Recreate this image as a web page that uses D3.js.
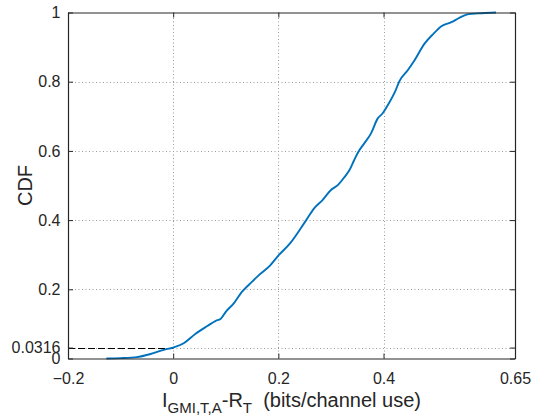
<!DOCTYPE html>
<html>
<head>
<meta charset="utf-8">
<script src="https://cdn.jsdelivr.net/npm/d3@7"></script>
<style>
	body { margin: 0; background: #fff; }
	svg text { font-family: 'Liberation Sans', Arial, Helvetica, sans-serif; fill: #262626; }
</style>
</head>
<body>
<div id="chart"></div>
<script>
var gapValues = [-0.127, -0.10, -0.069, -0.043, -0.018, 0, 0.020, 0.042, 0.065, 0.081, 0.090, 0.100, 0.116, 0.131, 0.150, 0.163, 0.185, 0.198, 0.223, 0.253, 0.268, 0.284, 0.300, 0.313, 0.326, 0.335, 0.344, 0.352, 0.363, 0.376, 0.389, 0.398, 0.408, 0.423, 0.430, 0.446, 0.459, 0.478, 0.494, 0.510, 0.529, 0.545, 0.558, 0.587, 0.614];
var cdfValues = [0, 0.001, 0.004, 0.013, 0.025, 0.0316, 0.044, 0.071, 0.094, 0.109, 0.114, 0.135, 0.161, 0.193, 0.222, 0.241, 0.270, 0.294, 0.334, 0.40, 0.434, 0.458, 0.487, 0.501, 0.525, 0.544, 0.573, 0.597, 0.621, 0.650, 0.694, 0.708, 0.732, 0.775, 0.801, 0.833, 0.862, 0.910, 0.937, 0.960, 0.972, 0.985, 0.994, 0.998, 1.0];

var xTicks = [-0.2, 0, 0.2, 0.4, 0.65];
var yTicks = [0, 0.0316, 0.2, 0.4, 0.6, 0.8, 1];
var marker = { x: 0, y: 0.0316 };

function drawCdf() {
	var width = 537,
	    height = 418,
	    margin = { left: 68, right: 22, top: 12.5, bottom: 59.5 };

	var svg = d3.select('#chart').append('svg')
		.attr('width', width)
		.attr('height', height);

	var x = d3.scaleLinear().domain([-0.2, 0.65]).range([margin.left, width - margin.right]);
	var y = d3.scaleLinear().domain([0, 1]).range([height - margin.bottom, margin.top]);

	var axisColor = '#262626';

	// grid
	var grid = svg.append('g').attr('class', 'grid')
		.attr('stroke', '#9a9a9a').attr('stroke-width', 1).attr('stroke-dasharray', '1,2.5');
	grid.selectAll('.vg').data(xTicks.slice(1, -1)).enter().append('line')
		.attr('x1', d => Math.round(x(d)) + 0.5).attr('x2', d => Math.round(x(d)) + 0.5)
		.attr('y1', y(0)).attr('y2', y(1));
	grid.selectAll('.hg').data(yTicks.slice(1, -1)).enter().append('line')
		.attr('y1', d => Math.round(y(d)) + 0.5).attr('y2', d => Math.round(y(d)) + 0.5)
		.attr('x1', x(-0.2)).attr('x2', x(0.65));

	// dashed marker at the 0 crossing
	svg.append('line')
		.attr('x1', x(-0.2)).attr('x2', x(marker.x))
		.attr('y1', Math.round(y(marker.y)) + 0.5).attr('y2', Math.round(y(marker.y)) + 0.5)
		.attr('stroke', '#000').attr('stroke-width', 1).attr('stroke-dasharray', '7,3');

	// cdf curve
	var pts = gapValues.map((v, i) => [v, cdfValues[i]]);
	svg.append('path')
		.datum(pts)
		.attr('fill', 'none')
		.attr('stroke', '#0072BD')
		.attr('stroke-width', 1.9)
		.attr('stroke-linejoin', 'round')
		.attr('d', d3.line().curve(d3.curveMonotoneX).x(d => x(d[0])).y(d => y(d[1])));

	// axes (ticks inward, box all round)
	var bottom = svg.append('g').attr('transform', `translate(0,${y(0)})`)
		.call(d3.axisBottom(x).tickValues(xTicks).tickFormat(d3.format('')).tickSizeInner(-5).tickSizeOuter(0).tickPadding(14));
	var top = svg.append('g').attr('transform', `translate(0,${y(1)})`)
		.call(d3.axisTop(x).tickValues(xTicks).tickFormat('').tickSizeInner(-5).tickSizeOuter(0));
	var left = svg.append('g').attr('transform', `translate(${x(-0.2)},0)`)
		.call(d3.axisLeft(y).tickValues(yTicks).tickFormat(d3.format('')).tickSizeInner(-5).tickSizeOuter(0).tickPadding(7.5));
	var right = svg.append('g').attr('transform', `translate(${x(0.65)},0)`)
		.call(d3.axisRight(y).tickValues(yTicks).tickFormat('').tickSizeInner(-5).tickSizeOuter(0));

	[bottom, top, left, right].forEach(function(g) {
		g.select('.domain').attr('stroke', axisColor).attr('stroke-width', 1.2);
		g.selectAll('.tick line').attr('stroke', axisColor);
		g.selectAll('.tick text').style('font-size', '16px').attr('fill', axisColor);
	});

	// labels
	svg.append('text')
		.attr('transform', `translate(32,${(y(0) + y(1)) / 2}) rotate(-90)`)
		.attr('text-anchor', 'middle')
		.style('font-size', '20px')
		.text('CDF');

	var xl = svg.append('text')
		.attr('x', (x(-0.2) + x(0.65)) / 2)
		.attr('y', 406.5)
		.attr('text-anchor', 'middle')
		.style('font-size', '20px');
	xl.append('tspan').text('I');
	xl.append('tspan').attr('dy', 6).style('font-size', '15px').text('GMI,T,A');
	xl.append('tspan').attr('dy', -6).text('-R');
	xl.append('tspan').attr('dy', 6).style('font-size', '15px').text('T');
	xl.append('tspan').attr('dy', -6).attr('xml:space', 'preserve').text('\u00a0\u00a0(bits/channel use)');
}

drawCdf();
</script>
</body>
</html>
